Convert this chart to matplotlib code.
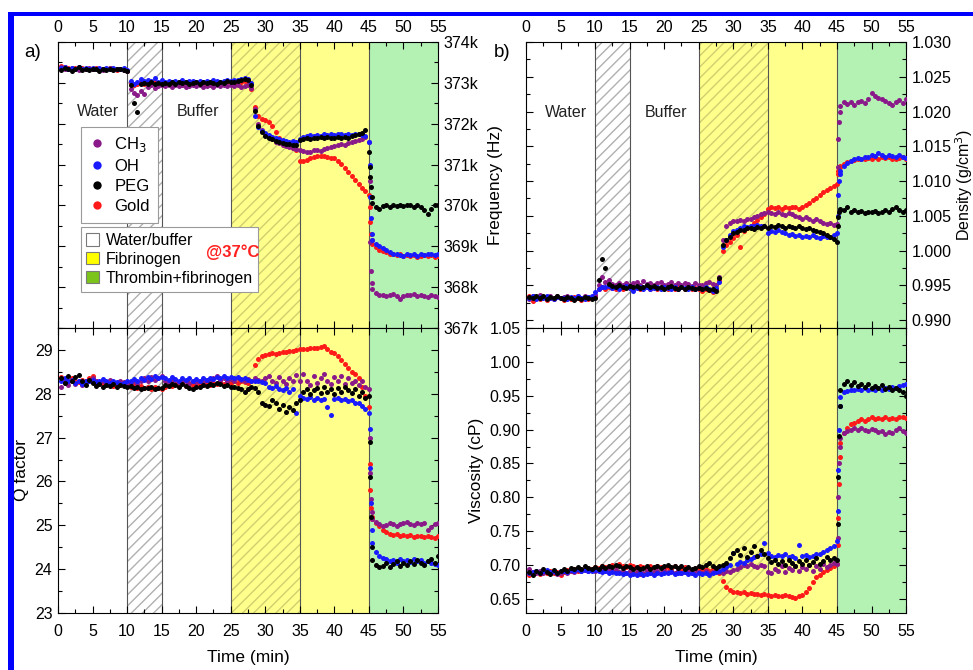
import matplotlib.pyplot as plt
import numpy as np
from matplotlib.lines import Line2D
from matplotlib.patches import Patch, Rectangle
from matplotlib.ticker import FuncFormatter, MultipleLocator

plt.rcParams['font.family'] = ['Liberation Sans', 'DejaVu Sans']

# sampling times (min): every 0.5 min plus the fast step just after 45 min
t = np.concatenate([np.arange(0.5, 45.01, 0.5), [45.1, 45.2, 45.3, 45.4], np.arange(45.5, 55.01, 0.5)])

# a) resonance frequency (kHz)
freq_ch3 = [
  373.38, 373.35, 373.33, 373.36, 373.34, 373.32, 373.35, 373.33, 373.36, 373.34,
  373.33, 373.35, 373.32, 373.34, 373.36, 373.33, 373.35, 373.34, 373.32, 373.30,
  372.85, 372.75, 372.70, 372.80, 372.72, 372.90, 372.95, 372.88, 372.92, 372.96,
  372.93, 372.95, 372.90, 372.94, 372.92, 372.96, 372.91, 372.93, 372.95, 372.92,
  372.94, 372.90, 372.93, 372.95, 372.91, 372.94, 372.92, 372.96, 372.93, 372.95,
  372.92, 372.95, 372.90, 372.93, 372.95, 372.88, 372.35, 372.00, 371.85, 371.75,
  371.68, 371.62, 371.55, 371.52, 371.48, 371.45, 371.42, 371.40, 371.38, 371.36,
  371.33, 371.30, 371.32, 371.35, 371.36, 371.34, 371.38, 371.40, 371.42, 371.45,
  371.47, 371.50, 371.48, 371.52, 371.55, 371.58, 371.60, 371.63, 371.68, 371.55,
  370.60, 369.10, 368.40, 368.10,
  367.95, 367.85, 367.80, 367.82, 367.78, 367.80, 367.83, 367.79, 367.70, 367.78,
  367.82, 367.80, 367.84, 367.78, 367.81, 367.79, 367.76, 367.80, 367.78, 367.76,
]
freq_oh = [
  373.36, 373.40, 373.34, 373.37, 373.33, 373.38, 373.35, 373.36, 373.34, 373.37,
  373.35, 373.36, 373.33, 373.37, 373.34, 373.36, 373.35, 373.33, 373.36, 373.32,
  373.05, 372.98, 373.02, 373.10, 373.05, 373.08, 373.04, 373.12, 373.03, 373.06,
  373.02, 373.05, 373.01, 373.04, 373.03, 373.06, 373.02, 373.04, 373.05, 373.03,
  373.04, 373.02, 373.05, 373.03, 373.06, 373.04, 373.03, 373.05, 373.07, 373.05,
  373.06, 373.08, 373.10, 373.12, 373.10, 373.00, 372.20, 371.92, 371.82, 371.78,
  371.72, 371.68, 371.65, 371.62, 371.60, 371.58, 371.56, 371.57, 371.55, 371.62,
  371.68, 371.70, 371.72, 371.70, 371.73, 371.71, 371.74, 371.72, 371.75, 371.73,
  371.74, 371.76, 371.73, 371.75, 371.72, 371.76, 371.74, 371.72, 371.70, 371.55,
  371.00, 370.20, 369.70, 369.30,
  369.15, 369.05, 369.00, 368.95, 368.90, 368.85, 368.82, 368.80, 368.78, 368.76,
  368.80, 368.78, 368.82, 368.76, 368.80, 368.78, 368.82, 368.80, 368.78, 368.80,
]
freq_peg = [
  373.32, 373.36, 373.33, 373.30, 373.35, 373.38, 373.32, 373.34, 373.31, 373.35,
  373.33, 373.30, 373.34, 373.32, 373.35, 373.31, 373.33, 373.35, 373.32, 373.28,
  372.95, 372.50, 372.28, 372.98, 373.00, 372.97, 373.02, 372.98, 373.00, 372.97,
  373.00, 372.98, 373.02, 372.97, 373.01, 372.99, 373.03, 372.98, 373.00, 373.02,
  372.98, 373.01, 372.99, 373.03, 373.00, 372.98, 373.02, 373.00, 373.04, 373.01,
  373.03, 373.05, 373.08, 373.10, 373.06, 372.95, 372.30, 371.95, 371.80, 371.70,
  371.65, 371.62, 371.58, 371.55, 371.52, 371.50, 371.50, 371.48, 371.47, 371.60,
  371.62, 371.65, 371.63, 371.66, 371.64, 371.67, 371.65, 371.68, 371.66, 371.65,
  371.67, 371.64, 371.68, 371.66, 371.70, 371.72, 371.75, 371.78, 371.85, 371.30,
  370.95, 370.70, 370.45, 370.20,
  370.05, 369.95, 369.92, 369.98, 370.00, 369.97, 370.02, 369.99, 370.01, 369.98,
  370.02, 370.00, 369.97, 370.01, 369.95, 369.88, 369.80, 369.92, 370.00, 370.01,
]
freq_gold = [
  373.42, 373.38, 373.36, 373.35, 373.37, 373.34, 373.36, 373.33, 373.35, 373.34,
  373.36, 373.34, 373.35, 373.33, 373.36, 373.34, 373.32, 373.35, 373.33, 373.30,
  373.00, 372.95, 372.98, 373.01, 372.97, 373.00, 372.98, 373.02, 372.99, 373.01,
  372.98, 373.00, 372.97, 373.01, 372.99, 372.96, 373.00, 372.98, 373.01, 372.99,
  372.97, 373.00, 372.98, 373.01, 372.99, 373.02, 373.00, 372.98, 373.01, 373.03,
  373.00, 373.04, 373.02, 373.05, 373.03, 372.85, 372.40, 372.20, 372.12, 372.10,
  372.05, 371.95, 371.80, 371.65, 371.55, 371.50, 371.45, 371.40, 371.35, 371.10,
  371.08, 371.12, 371.15, 371.18, 371.20, 371.22, 371.20, 371.18, 371.16, 371.15,
  371.10, 371.02, 370.92, 370.82, 370.72, 370.62, 370.52, 370.42, 370.35, 370.25,
  369.95, 369.60, 369.30, 369.15,
  369.05, 368.98, 368.92, 368.88, 368.85, 368.82, 368.80, 368.78, 368.80, 368.77,
  368.79, 368.76, 368.78, 368.75, 368.77, 368.79, 368.76, 368.78, 368.75, 368.77,
]

# a) Q factor
q_ch3 = [
  28.15, 28.25, 28.20, 28.30, 28.22, 28.28, 28.20, 28.26, 28.30, 28.35,
  28.28, 28.22, 28.30, 28.25, 28.32, 28.27, 28.24, 28.30, 28.26, 28.22,
  28.25, 28.30, 28.22, 28.28, 28.35, 28.30, 28.38, 28.32, 28.35, 28.40,
  28.30, 28.25, 28.28, 28.32, 28.26, 28.30, 28.28, 28.24, 28.30, 28.27,
  28.30, 28.26, 28.32, 28.28, 28.35, 28.40, 28.32, 28.36, 28.30, 28.34,
  28.30, 28.35, 28.32, 28.28, 28.34, 28.30, 28.36, 28.32, 28.28, 28.35,
  28.40, 28.30, 28.25, 28.38, 28.30, 28.22, 28.35, 28.28, 28.42, 28.30,
  28.45, 28.30, 28.20, 28.40, 28.25, 28.35, 28.45, 28.30, 28.22, 28.38,
  28.28, 28.40, 28.22, 28.35, 28.25, 28.30, 28.20, 28.28, 28.15, 28.10,
  27.00, 26.20, 25.60, 25.30,
  25.15, 25.08, 25.02, 24.98, 25.00, 25.05, 25.02, 24.98, 25.04, 25.06,
  25.08, 25.04, 25.00, 25.06, 25.02, 25.05, 24.90, 24.95, 25.02, 25.05,
]
q_oh = [
  28.30, 28.35, 28.28, 28.32, 28.25, 28.30, 28.22, 28.28, 28.30, 28.32,
  28.26, 28.30, 28.34, 28.28, 28.25, 28.30, 28.27, 28.22, 28.25, 28.28,
  28.30, 28.33, 28.28, 28.35, 28.32, 28.38, 28.34, 28.40, 28.36, 28.38,
  28.35, 28.32, 28.38, 28.34, 28.30, 28.36, 28.32, 28.35, 28.30, 28.33,
  28.30, 28.35, 28.32, 28.37, 28.34, 28.38, 28.35, 28.40, 28.36, 28.38,
  28.35, 28.38, 28.34, 28.36, 28.32, 28.30, 28.28, 28.30, 28.26, 28.25,
  28.15, 28.12, 28.18, 28.10, 28.08, 28.12, 28.05, 28.10, 27.55, 27.95,
  27.90, 27.88, 27.92, 27.86, 27.90, 27.85, 27.88, 27.70, 27.52, 27.87,
  27.90, 27.86, 27.88, 27.84, 27.85, 27.80, 27.78, 27.72, 27.65, 27.55,
  27.20, 26.30, 25.50, 24.90,
  24.60, 24.40, 24.30, 24.25, 24.22, 24.18, 24.20, 24.15, 24.22, 24.18,
  24.20, 24.16, 24.22, 24.18, 24.20, 24.15, 24.18, 24.14, 24.12, 24.10,
]
q_peg = [
  28.35, 28.25, 28.40, 28.30, 28.38, 28.42, 28.28, 28.20, 28.32, 28.25,
  28.18, 28.22, 28.15, 28.20, 28.18, 28.22, 28.16, 28.20, 28.18, 28.15,
  28.18, 28.12, 28.15, 28.10, 28.14, 28.12, 28.16, 28.10, 28.14, 28.12,
  28.20, 28.18, 28.22, 28.20, 28.16, 28.22, 28.18, 28.14, 28.10, 28.16,
  28.15, 28.20, 28.18, 28.22, 28.20, 28.25, 28.22, 28.18, 28.20, 28.16,
  28.15, 28.12, 28.10, 28.05, 28.10, 28.15, 28.12, 28.05, 27.80, 27.75,
  27.72, 27.85, 27.78, 27.65, 27.75, 27.58, 27.70, 27.62, 27.80, 27.85,
  28.05, 28.10, 28.00, 28.08, 28.12, 28.02, 28.15, 28.05, 28.10, 28.00,
  28.12, 28.05, 28.15, 28.08, 28.02, 28.10, 27.95, 28.05, 27.90, 27.95,
  26.90, 26.10, 25.20, 24.50,
  24.20, 24.10, 24.05, 24.08, 24.15, 24.05, 24.12, 24.18, 24.08, 24.15,
  24.10, 24.18, 24.12, 24.20, 24.15, 24.10, 24.18, 24.22, 24.15, 24.30,
]
q_gold = [
  28.38, 28.32, 28.28, 28.35, 28.30, 28.26, 28.32, 28.28, 28.35, 28.40,
  28.30, 28.22, 28.25, 28.20, 28.24, 28.18, 28.22, 28.20, 28.25, 28.18,
  28.15, 28.20, 28.14, 28.18, 28.12, 28.16, 28.10, 28.15, 28.12, 28.10,
  28.15, 28.20, 28.18, 28.22, 28.20, 28.24, 28.18, 28.22, 28.20, 28.18,
  28.22, 28.20, 28.24, 28.21, 28.25, 28.22, 28.26, 28.23, 28.28, 28.25,
  28.28, 28.25, 28.30, 28.27, 28.24, 28.30, 28.65, 28.80, 28.86, 28.88,
  28.90, 28.92, 28.91, 28.94, 28.95, 28.96, 28.98, 28.97, 29.00, 29.01,
  29.02, 29.03, 29.04, 29.05, 29.04, 29.06, 29.09, 29.02, 28.96, 28.92,
  28.85, 28.76, 28.68, 28.58, 28.50, 28.44, 28.35, 28.15, 27.95, 27.70,
  26.40, 25.80, 25.40, 25.20,
  25.15, 25.05, 24.98, 24.90, 24.85, 24.80, 24.78, 24.80, 24.76, 24.78,
  24.75, 24.78, 24.74, 24.76, 24.75, 24.73, 24.76, 24.74, 24.72, 24.75,
]

# b) density (g/cm3)
dens_ch3 = [
  0.9930, 0.9935, 0.9932, 0.9936, 0.9933, 0.9931, 0.9935, 0.9932, 0.9934, 0.9931,
  0.9933, 0.9935, 0.9932, 0.9930, 0.9934, 0.9932, 0.9935, 0.9933, 0.9932, 0.9936,
  0.9950, 0.9962, 0.9955, 0.9958, 0.9952, 0.9950, 0.9953, 0.9951, 0.9954, 0.9950,
  0.9953, 0.9955, 0.9951, 0.9956, 0.9952, 0.9954, 0.9950, 0.9953, 0.9955, 0.9951,
  0.9952, 0.9955, 0.9951, 0.9953, 0.9950, 0.9954, 0.9952, 0.9949, 0.9953, 0.9951,
  0.9950, 0.9953, 0.9955, 0.9952, 0.9950, 0.9962, 1.0015, 1.0035, 1.0040, 1.0042,
  1.0042, 1.0044, 1.0043, 1.0046, 1.0045, 1.0048, 1.0050, 1.0052, 1.0054, 1.0056,
  1.0054, 1.0052, 1.0055, 1.0053, 1.0051, 1.0054, 1.0052, 1.0050, 1.0048, 1.0046,
  1.0048, 1.0045, 1.0043, 1.0046, 1.0042, 1.0040, 1.0038, 1.0040, 1.0037, 1.0038,
  1.0120, 1.0160, 1.0185, 1.0200,
  1.0208, 1.0213, 1.0211, 1.0214, 1.0210, 1.0213, 1.0215, 1.0212, 1.0218, 1.0226,
  1.0223, 1.0220, 1.0218, 1.0215, 1.0212, 1.0210, 1.0213, 1.0216, 1.0212, 1.0218,
]
dens_oh = [
  0.9932, 0.9934, 0.9930, 0.9933, 0.9931, 0.9934, 0.9932, 0.9930, 0.9933, 0.9931,
  0.9932, 0.9930, 0.9933, 0.9931, 0.9934, 0.9932, 0.9930, 0.9933, 0.9935, 0.9940,
  0.9945, 0.9948, 0.9947, 0.9949, 0.9946, 0.9948, 0.9945, 0.9947, 0.9949, 0.9946,
  0.9942, 0.9946, 0.9948, 0.9945, 0.9947, 0.9944, 0.9946, 0.9948, 0.9945, 0.9947,
  0.9946, 0.9944, 0.9947, 0.9945, 0.9948, 0.9946, 0.9944, 0.9947, 0.9945, 0.9946,
  0.9944, 0.9947, 0.9945, 0.9942, 0.9946, 0.9955, 1.0005, 1.0015, 1.0022, 1.0028,
  1.0030, 1.0033, 1.0035, 1.0034, 1.0036, 1.0035, 1.0037, 1.0036, 1.0035, 1.0025,
  1.0028, 1.0027, 1.0029, 1.0026, 1.0025, 1.0023, 1.0024, 1.0021, 1.0022, 1.0020,
  1.0021, 1.0019, 1.0022, 1.0020, 1.0018, 1.0021, 1.0019, 1.0020, 1.0022, 1.0025,
  1.0050, 1.0080, 1.0100, 1.0110,
  1.0115, 1.0122, 1.0126, 1.0129, 1.0131, 1.0133, 1.0132, 1.0135, 1.0134, 1.0138,
  1.0136, 1.0140, 1.0137, 1.0135, 1.0138, 1.0136, 1.0134, 1.0137, 1.0135, 1.0133,
]
dens_peg = [
  0.9933, 0.9931, 0.9934, 0.9932, 0.9935, 0.9930, 0.9933, 0.9931, 0.9934, 0.9932,
  0.9930, 0.9933, 0.9931, 0.9929, 0.9932, 0.9930, 0.9933, 0.9931, 0.9930, 0.9932,
  0.9958, 0.9988, 0.9975, 0.9952, 0.9949, 0.9947, 0.9950, 0.9948, 0.9946, 0.9949,
  0.9947, 0.9949, 0.9946, 0.9948, 0.9950, 0.9947, 0.9949, 0.9946, 0.9948, 0.9945,
  0.9947, 0.9949, 0.9946, 0.9944, 0.9947, 0.9945, 0.9948, 0.9946, 0.9944, 0.9946,
  0.9944, 0.9946, 0.9943, 0.9945, 0.9942, 0.9960, 1.0008, 1.0015, 1.0020, 1.0025,
  1.0027, 1.0030, 1.0029, 1.0032, 1.0033, 1.0031, 1.0034, 1.0033, 1.0035, 1.0032,
  1.0036, 1.0034, 1.0037, 1.0035, 1.0033, 1.0036, 1.0034, 1.0032, 1.0035, 1.0033,
  1.0031, 1.0033, 1.0030, 1.0028, 1.0027, 1.0025, 1.0022, 1.0020, 1.0016, 1.0012,
  1.0035, 1.0048, 1.0055, 1.0058,
  1.0060, 1.0058, 1.0062, 1.0056, 1.0058, 1.0055, 1.0057, 1.0054, 1.0056, 1.0055,
  1.0057, 1.0054, 1.0056, 1.0058, 1.0055, 1.0060, 1.0062, 1.0058, 1.0056, 1.0058,
]
dens_gold = [
  0.9935, 0.9928, 0.9932, 0.9930, 0.9933, 0.9929, 0.9932, 0.9930, 0.9933, 0.9931,
  0.9929, 0.9932, 0.9930, 0.9933, 0.9931, 0.9929, 0.9932, 0.9930, 0.9931, 0.9934,
  0.9944, 0.9947, 0.9945, 0.9948, 0.9946, 0.9944, 0.9947, 0.9945, 0.9948, 0.9946,
  0.9945, 0.9947, 0.9944, 0.9946, 0.9948, 0.9945, 0.9947, 0.9944, 0.9946, 0.9948,
  0.9945, 0.9947, 0.9944, 0.9946, 0.9948, 0.9945, 0.9947, 0.9944, 0.9946, 0.9945,
  0.9942, 0.9945, 0.9943, 0.9940, 0.9944, 0.9958, 1.0000, 1.0008, 1.0012, 1.0018,
  1.0022, 1.0005, 1.0028, 1.0032, 1.0036, 1.0040, 1.0044, 1.0048, 1.0052, 1.0060,
  1.0062, 1.0061, 1.0063, 1.0060, 1.0062, 1.0061, 1.0063, 1.0062, 1.0060, 1.0063,
  1.0065, 1.0068, 1.0072, 1.0076, 1.0080, 1.0084, 1.0087, 1.0090, 1.0093, 1.0096,
  1.0110, 1.0115, 1.0118, 1.0120,
  1.0122, 1.0125, 1.0127, 1.0129, 1.0130, 1.0131, 1.0132, 1.0131, 1.0133, 1.0132,
  1.0134, 1.0132, 1.0135, 1.0133, 1.0134, 1.0132, 1.0131, 1.0133, 1.0134, 1.0132,
]

# b) viscosity (cP)
visc_ch3 = [
  0.695, 0.690, 0.688, 0.692, 0.689, 0.691, 0.688, 0.690, 0.687, 0.689,
  0.691, 0.689, 0.692, 0.690, 0.693, 0.691, 0.694, 0.692, 0.693, 0.691,
  0.693, 0.695, 0.692, 0.694, 0.691, 0.693, 0.690, 0.692, 0.689, 0.691,
  0.688, 0.690, 0.687, 0.689, 0.691, 0.688, 0.690, 0.692, 0.689, 0.691,
  0.690, 0.692, 0.689, 0.691, 0.688, 0.690, 0.692, 0.689, 0.691, 0.690,
  0.689, 0.691, 0.688, 0.690, 0.692, 0.690, 0.689, 0.691, 0.690, 0.693,
  0.695, 0.697, 0.700, 0.698, 0.702, 0.699, 0.697, 0.700, 0.698, 0.690,
  0.688, 0.695, 0.692, 0.698, 0.690, 0.696, 0.693, 0.699, 0.691, 0.697,
  0.694, 0.700, 0.692, 0.698, 0.695, 0.702, 0.697, 0.700, 0.703, 0.701,
  0.740, 0.800, 0.850, 0.875,
  0.888, 0.895, 0.898, 0.900, 0.902, 0.899, 0.903, 0.900, 0.898, 0.901,
  0.899, 0.896, 0.898, 0.894, 0.897, 0.895, 0.899, 0.902, 0.898, 0.895,
]
visc_oh = [
  0.688, 0.690, 0.692, 0.689, 0.691, 0.693, 0.690, 0.692, 0.689, 0.691,
  0.692, 0.690, 0.693, 0.691, 0.694, 0.692, 0.693, 0.691, 0.692, 0.693,
  0.692, 0.690, 0.691, 0.689, 0.690, 0.688, 0.689, 0.687, 0.688, 0.686,
  0.687, 0.686, 0.688, 0.686, 0.687, 0.689, 0.686, 0.688, 0.687, 0.689,
  0.688, 0.690, 0.687, 0.689, 0.688, 0.690, 0.687, 0.689, 0.686, 0.688,
  0.687, 0.689, 0.686, 0.688, 0.690, 0.692, 0.694, 0.697, 0.700, 0.718,
  0.702, 0.705, 0.703, 0.707, 0.709, 0.712, 0.714, 0.716, 0.732, 0.718,
  0.714, 0.712, 0.715, 0.713, 0.716, 0.712, 0.714, 0.711, 0.730, 0.713,
  0.715, 0.712, 0.714, 0.717, 0.716, 0.720, 0.722, 0.726, 0.728, 0.735,
  0.780, 0.840, 0.900, 0.935,
  0.948, 0.955, 0.957, 0.959, 0.958, 0.960, 0.958, 0.961, 0.959, 0.960,
  0.958, 0.961, 0.959, 0.962, 0.960, 0.963, 0.961, 0.964, 0.966, 0.968,
]
visc_peg = [
  0.690, 0.686, 0.692, 0.688, 0.694, 0.690, 0.687, 0.693, 0.689, 0.691,
  0.695, 0.692, 0.696, 0.694, 0.697, 0.695, 0.698, 0.696, 0.694, 0.697,
  0.695, 0.698, 0.696, 0.699, 0.697, 0.700, 0.698, 0.696, 0.699, 0.697,
  0.695, 0.697, 0.694, 0.696, 0.698, 0.695, 0.697, 0.699, 0.696, 0.698,
  0.700, 0.697, 0.699, 0.696, 0.698, 0.695, 0.697, 0.694, 0.696, 0.698,
  0.697, 0.700, 0.703, 0.698, 0.696, 0.698, 0.700, 0.703, 0.710, 0.718,
  0.722, 0.715, 0.725, 0.712, 0.720, 0.728, 0.714, 0.722, 0.716, 0.710,
  0.705, 0.708, 0.702, 0.706, 0.700, 0.708, 0.703, 0.698, 0.706, 0.702,
  0.708, 0.700, 0.705, 0.710, 0.702, 0.706, 0.712, 0.708, 0.710, 0.708,
  0.760, 0.830, 0.890, 0.935,
  0.958, 0.968, 0.972, 0.966, 0.970, 0.965, 0.968, 0.963, 0.967, 0.962,
  0.965, 0.961, 0.966, 0.960, 0.963, 0.958, 0.962, 0.959, 0.955, 0.950,
]
visc_gold = [
  0.686, 0.688, 0.690, 0.687, 0.691, 0.689, 0.692, 0.688, 0.690, 0.686,
  0.690, 0.693, 0.691, 0.694, 0.692, 0.695, 0.693, 0.696, 0.694, 0.697,
  0.696, 0.698, 0.697, 0.699, 0.700, 0.698, 0.701, 0.699, 0.697, 0.700,
  0.698, 0.696, 0.699, 0.697, 0.695, 0.698, 0.696, 0.699, 0.697, 0.695,
  0.697, 0.695, 0.698, 0.696, 0.694, 0.697, 0.695, 0.693, 0.696, 0.694,
  0.693, 0.695, 0.692, 0.694, 0.691, 0.688, 0.676, 0.668, 0.664, 0.661,
  0.660, 0.659, 0.660, 0.658, 0.659, 0.657, 0.658, 0.656, 0.657, 0.656,
  0.655, 0.656, 0.654, 0.655, 0.656, 0.654, 0.653, 0.652, 0.654, 0.656,
  0.660, 0.667, 0.675, 0.682, 0.686, 0.690, 0.693, 0.696, 0.698, 0.702,
  0.730, 0.770, 0.820, 0.860,
  0.880, 0.895, 0.903, 0.908, 0.910, 0.912, 0.915, 0.913, 0.916, 0.918,
  0.916, 0.917, 0.915, 0.918, 0.916, 0.917, 0.915, 0.918, 0.919, 0.917,
]

labels = ['CH$_3$', 'OH', 'PEG', 'Gold']
colors = ['#8a1a8a', '#1a1aff', '#000000', '#ff1a1a']
draw_order = [3, 0, 1, 2]  # gold below, PEG on top

yellow = '#ffff8c'
green = '#b4f2b4'


def shade(ax):
  ax.axvspan(10, 15, facecolor='white', edgecolor='#b0b0b0', hatch='///', lw=0, zorder=0)
  ax.axvspan(25, 35, facecolor=yellow, edgecolor='#cfcf70', hatch='///', lw=0, zorder=0)
  ax.axvspan(35, 45, facecolor=yellow, lw=0, zorder=0)
  ax.axvspan(45, 55, facecolor=green, lw=0, zorder=0)
  for x in (10, 15, 25, 35, 45):
    ax.axvline(x, color='#555555', lw=0.8, zorder=1)


def draw(ax, series):
  shade(ax)
  for i in draw_order:
    ax.plot(t, series[i], 'o', ms=3.6, mew=0, color=colors[i], zorder=3)
  ax.set_xlim(0, 55)
  ax.xaxis.set_major_locator(MultipleLocator(5))
  ax.xaxis.set_minor_locator(MultipleLocator(2.5))
  ax.tick_params(which='both', direction='in', top=True, bottom=True, left=True, right=True, labelsize=11.5, pad=4)
  ax.tick_params(which='major', length=5, width=0.8)
  ax.tick_params(which='minor', length=3, width=0.8)


fig = plt.figure(figsize=(9.73, 6.70), dpi=100)
ax_f = fig.add_axes([0.0596, 0.5104, 0.3906, 0.4269])
ax_q = fig.add_axes([0.0596, 0.0851, 0.3906, 0.4254])
ax_d = fig.add_axes([0.5406, 0.5104, 0.3906, 0.4269])
ax_v = fig.add_axes([0.5406, 0.0851, 0.3906, 0.4254])

draw(ax_f, [freq_ch3, freq_oh, freq_peg, freq_gold])
draw(ax_q, [q_ch3, q_oh, q_peg, q_gold])
draw(ax_d, [dens_ch3, dens_oh, dens_peg, dens_gold])
draw(ax_v, [visc_ch3, visc_oh, visc_peg, visc_gold])

# top row: time labels on top, values on the right
for ax in (ax_f, ax_d):
  ax.tick_params(labeltop=True, labelbottom=False, labelleft=False, labelright=True)
  ax.tick_params(axis='x', pad=5)
  ax.yaxis.set_label_position('right')

# bottom row: time labels sit a bit lower
for ax in (ax_q, ax_v):
  ax.tick_params(axis='x', pad=8)

ax_f.set_ylim(367, 374)
ax_f.yaxis.set_major_locator(MultipleLocator(1))
ax_f.yaxis.set_minor_locator(MultipleLocator(0.5))
ax_f.yaxis.set_major_formatter(FuncFormatter(lambda v, p: f'{v:.0f}k'))
ax_f.set_ylabel('Frequency (Hz)', fontsize=12.5, labelpad=7)

ax_d.set_ylim(0.98885, 1.030)
ax_d.yaxis.set_major_locator(MultipleLocator(0.005))
ax_d.yaxis.set_minor_locator(MultipleLocator(0.0025))
ax_d.yaxis.set_major_formatter(FuncFormatter(lambda v, p: f'{v:.3f}'))
ax_d.set_ylabel('Density (g/cm$^3$)', fontsize=11.5, labelpad=1)

ax_q.set_ylim(23, 29.5)
ax_q.yaxis.set_major_locator(MultipleLocator(1))
ax_q.yaxis.set_minor_locator(MultipleLocator(0.5))
ax_q.set_ylabel('Q factor', fontsize=12.5, labelpad=4)
ax_q.set_xlabel('Time (min)', fontsize=12.5, labelpad=8)

ax_v.set_ylim(0.6294, 1.05)
ax_v.yaxis.set_major_locator(MultipleLocator(0.05))
ax_v.yaxis.set_minor_locator(MultipleLocator(0.025))
ax_v.yaxis.set_major_formatter(FuncFormatter(lambda v, p: f'{v:.2f}'))
ax_v.set_ylabel('Viscosity (cP)', fontsize=12.5, labelpad=4)
ax_v.set_xlabel('Time (min)', fontsize=12.5, labelpad=8)

# region labels
ax_f.text(5.75, 372.29, 'Water', ha='center', va='center', fontsize=11.5, color='#222222')
ax_f.text(20.3, 372.29, 'Buffer', ha='center', va='center', fontsize=11.5, color='#222222')
ax_d.text(5.8, 1.0199, 'Water', ha='center', va='center', fontsize=11.5, color='#222222')
ax_d.text(20.3, 1.0199, 'Buffer', ha='center', va='center', fontsize=11.5, color='#222222')

# legends
dot_handles = [Line2D([], [], marker='o', ls='', ms=6, mew=0, color=c) for c in colors]
leg1 = ax_f.legend(dot_handles, labels, loc='upper left', bbox_to_anchor=(0.06, 0.703), borderaxespad=0,
                   fontsize=12, frameon=True, fancybox=False, edgecolor='#9a9a9a', framealpha=1,
                   handlelength=1.0, handletextpad=0.5, labelspacing=0.3, borderpad=0.5)
leg1.get_frame().set_linewidth(0.8)
ax_f.add_artist(leg1)

patch_handles = [
  Patch(facecolor='white', edgecolor='#7a7a7a', lw=0.8),
  Patch(facecolor='#ffff00', edgecolor='#7a7a7a', lw=0.8),
  Patch(facecolor='#7cc41c', edgecolor='#7a7a7a', lw=0.8),
]
leg2 = ax_f.legend(patch_handles, ['Water/buffer', 'Fibrinogen', 'Thrombin+fibrinogen'], loc='upper left',
                   bbox_to_anchor=(0.06, 0.352), borderaxespad=0, fontsize=11.5, frameon=True, fancybox=False,
                   edgecolor='#9a9a9a', framealpha=1, handlelength=0.8, handleheight=0.8,
                   handletextpad=0.4, labelspacing=0.25, borderpad=0.35)
leg2.get_frame().set_linewidth(0.8)
leg2.set_zorder(5)
ax_f.text(25.3, 368.85, '@37°C', ha='center', va='center', fontsize=12, fontweight='bold', color='#ff2020', zorder=6)

fig.text(0.034, 0.922, 'a)', fontsize=13.5, ha='center', va='center')
fig.text(0.516, 0.922, 'b)', fontsize=13.5, ha='center', va='center')

# blue frame on the top and left edges
fig.add_artist(Rectangle((0.0087, 0.9754), 0.9913, 0.0062, transform=fig.transFigure, color='#0000ff', lw=0))
fig.add_artist(Rectangle((0.0087, 0.0), 0.0052, 0.9813, transform=fig.transFigure, color='#0000ff', lw=0))

fig.savefig('out.png', dpi=100)
